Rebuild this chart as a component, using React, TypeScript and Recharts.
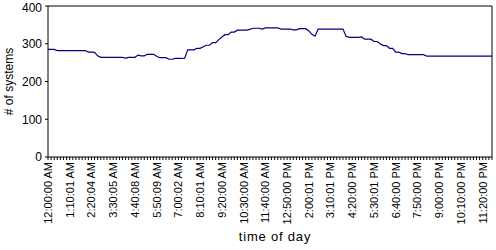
import React from "react";
import { LineChart, Line, XAxis, YAxis, ReferenceLine } from "recharts";

// one sample roughly every 10 minutes, 00:00 .. 23:50
const systems = [
  285, 285, 285, 282, 282, 282, 282, 282, 282, 282, 282, 282, 282, 278, 278, 277,
  268, 264, 264, 264, 264, 264, 264, 264, 264, 262, 264, 264, 264, 270, 268, 268,
  272, 272, 272, 267, 263, 263, 263, 259, 259, 261, 261, 261, 262, 284, 284, 284,
  288, 288, 292, 296, 296, 303, 303, 311, 318, 324, 324, 331, 331, 336, 336, 336,
  336, 338, 341, 341, 341, 339, 342, 342, 342, 342, 342, 339, 339, 339, 339, 337,
  337, 340, 340, 340, 334, 325, 320, 339, 339, 339, 339, 339, 339, 339, 339, 339,
  320, 317, 317, 317, 317, 318, 312, 312, 312, 306, 306, 300, 295, 295, 288, 288,
  278, 278, 274, 274, 271, 271, 271, 271, 271, 271, 267, 267, 267, 267, 267, 267,
  267, 267, 267, 267, 267, 267, 267, 267, 267, 267, 267, 267, 267, 267, 267, 267,
];

// shown on every 7th sample
const tickLabels = [
  "12:00:00 AM", "1:10:01 AM", "2:20:04 AM", "3:30:05 AM", "4:40:08 AM",
  "5:50:09 AM", "7:00:02 AM", "8:10:01 AM", "9:20:00 AM", "10:30:00 AM",
  "11:40:00 AM", "12:50:00 PM", "2:00:01 PM", "3:10:01 PM", "4:20:00 PM",
  "5:30:01 PM", "6:40:00 PM", "7:50:00 PM", "9:00:00 PM", "10:10:00 PM",
  "11:20:00 PM",
];

const yTicks = [0, 50, 100, 150, 200, 250, 300, 350, 400];

const data = systems.map((v, i) => ({ i, v }));

const FONT = "'Liberation Sans', Arial, sans-serif";

function TimeTick(props: any) {
  const { x, y, payload } = props;
  const idx = payload.index ?? payload.value;
  return (
    <g>
      <line x1={x} y1={y - 5} x2={x} y2={y - 2} stroke="#000" />
      {idx % 7 === 0 && (
        <text
          x={x}
          y={y}
          dy="0.36em"
          transform={`rotate(-90, ${x}, ${y})`}
          textAnchor="end"
          fontSize={11}
          fontFamily={FONT}
          fill="#000"
        >
          {tickLabels[idx / 7]}
        </text>
      )}
    </g>
  );
}

function YLabel(props: any) {
  const { viewBox } = props;
  const cx = 9;
  const cy = viewBox.y + viewBox.height / 2;
  return (
    <text
      x={cx}
      y={cy}
      dy="0.36em"
      transform={`rotate(-90, ${cx}, ${cy})`}
      textAnchor="middle"
      fontSize={12}
      fontFamily={FONT}
      fill="#000"
    >
      # of systems
    </text>
  );
}

function XLabel(props: any) {
  const { viewBox } = props;
  return (
    <text
      x={viewBox.x + viewBox.width / 2 + 5}
      y={241}
      textAnchor="middle"
      fontSize={13}
      fontFamily={FONT}
      letterSpacing={0.8}
      fill="#000"
    >
      time of day
    </text>
  );
}

export default function App() {
  return (
    <div style={{ position: "fixed", left: 0, top: 0, background: "#fff" }}>
      <LineChart width={496} height={250} data={data} margin={{ top: 6, right: 0, left: 0, bottom: 0 }}>
        <XAxis
          dataKey="i"
          type="category"
          interval={0}
          height={93}
          tickLine={false}
          tickSize={3}
          axisLine={{ stroke: "#000" }}
          tick={<TimeTick />}
          label={<XLabel />}
        />
        <YAxis
          domain={[0, 400]}
          ticks={yTicks}
          width={48}
          tickSize={3}
          tickMargin={3}
          axisLine={{ stroke: "#000" }}
          tickLine={{ stroke: "#000" }}
          tick={{ fill: "#000", fontSize: 12, fontFamily: FONT }}
          label={<YLabel />}
        />
        <YAxis
          yAxisId="right"
          orientation="right"
          width={4}
          domain={[0, 400]}
          tick={false}
          tickLine={false}
          axisLine={{ stroke: "#000" }}
        />
        <ReferenceLine y={400} stroke="#000" />
        <Line
          type="linear"
          dataKey="v"
          stroke="#000080"
          strokeWidth={1.2}
          dot={false}
          isAnimationActive={false}
        />
      </LineChart>
    </div>
  );
}
